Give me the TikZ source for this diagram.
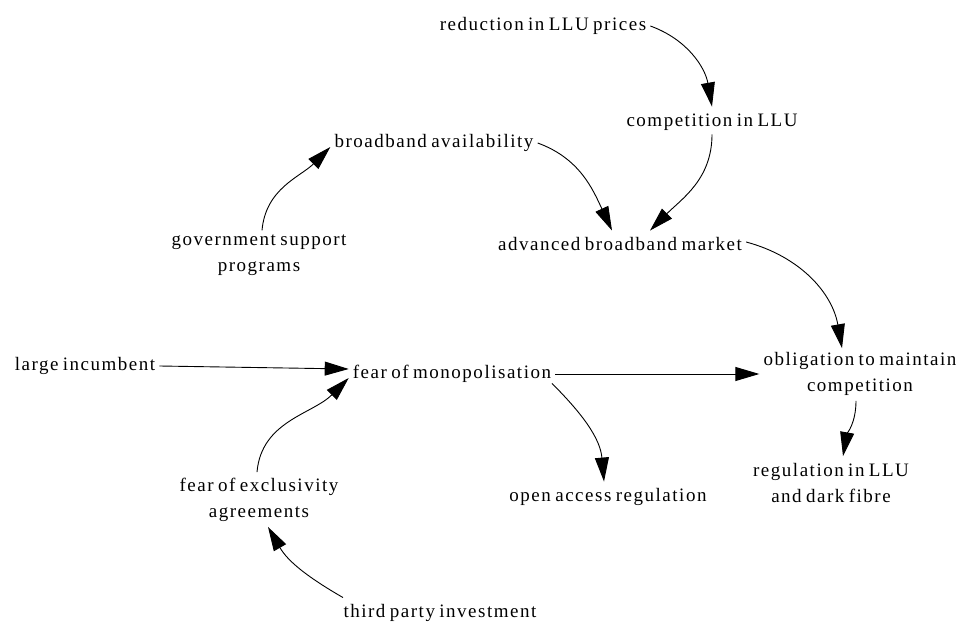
\documentclass[tikz,border=0pt]{standalone}
\usepackage{fontspec}
\setmainfont{Liberation Serif}[LetterSpace=8,WordSpace=0.7]
\usetikzlibrary{arrows.meta}
\begin{document}
\begin{tikzpicture}[x=1pt,y=1pt,
  lblbase/.style={inner xsep=4pt,inner ysep=4pt,font=\fontsize{19}{26}\selectfont,align=center},
  lbl/.style={lblbase,text height=12.5pt,text depth=4pt},
  lbltwo/.style={lblbase},
  conn/.style={line width=0.9pt,-{Triangle[length=24pt,width=14pt]}}]
\useasboundingbox (0,0) rectangle (963,624);
\node[lbl] (red) at (543,598) {reduction in LLU prices};
\node[lbl] (comp) at (712,502) {competition in LLU};
\node[lbl] (bb) at (434,481) {broadband availability};
\node[lbl] (adv) at (620,378) {advanced broadband market};
\node[lbltwo] (gov) at (259,369) {government support\\programs};
\node[lbl] (large) at (85,258) {large incumbent};
\node[lbl] (fom) at (452,250) {fear of monopolisation};
\node[lbltwo] (obl) at (860,250) {obligation to maintain\\competition};
\node[lbltwo] (fex) at (259,124) {fear of exclusivity\\agreements};
\node[lbl] (open) at (608,127) {open access regulation};
\node[lbltwo] (reg) at (831,141) {regulation in LLU\\and dark fibre};
\node[lbl] (third) at (440,11) {third party investment};

\draw[conn] (red.east) to[out=-20,in=100] ([yshift=3pt]comp.north);
\draw[conn] (comp.south) to[out=-90,in=45] ([xshift=30pt,yshift=3pt]adv.north);
\draw[conn] (bb.east) to[out=-20,in=115] ([xshift=-8pt,yshift=3pt]adv.north);
\draw[conn] ([xshift=3pt]gov.north) to[out=85,in=-135] ([yshift=-4pt]bb.west);
\draw[conn] ([yshift=4pt]adv.east) to[out=-15,in=100] ([xshift=-18pt]obl.north);
\draw[conn] (large.east) -- ([yshift=5pt]fom.west);
\draw[conn] (fom.east) -- (obl.west);
\draw[conn] ([xshift=100pt,yshift=3pt]fom.south) to[out=-45,in=95] ([xshift=-4pt,yshift=3pt]open.north);
\draw[conn] ([xshift=-2pt,yshift=2pt]fex.north) to[out=85,in=-135] ([yshift=-4pt]fom.west);
\draw[conn] ([xshift=-97pt,yshift=3pt]third.north) to[out=150,in=-60] ([xshift=9pt,yshift=-1pt]fex.south);
\draw[conn] ([xshift=-4pt,yshift=-1pt]obl.south) to[out=-90,in=80] ([xshift=12pt,yshift=3pt]reg.north);
\end{tikzpicture}
\end{document}
